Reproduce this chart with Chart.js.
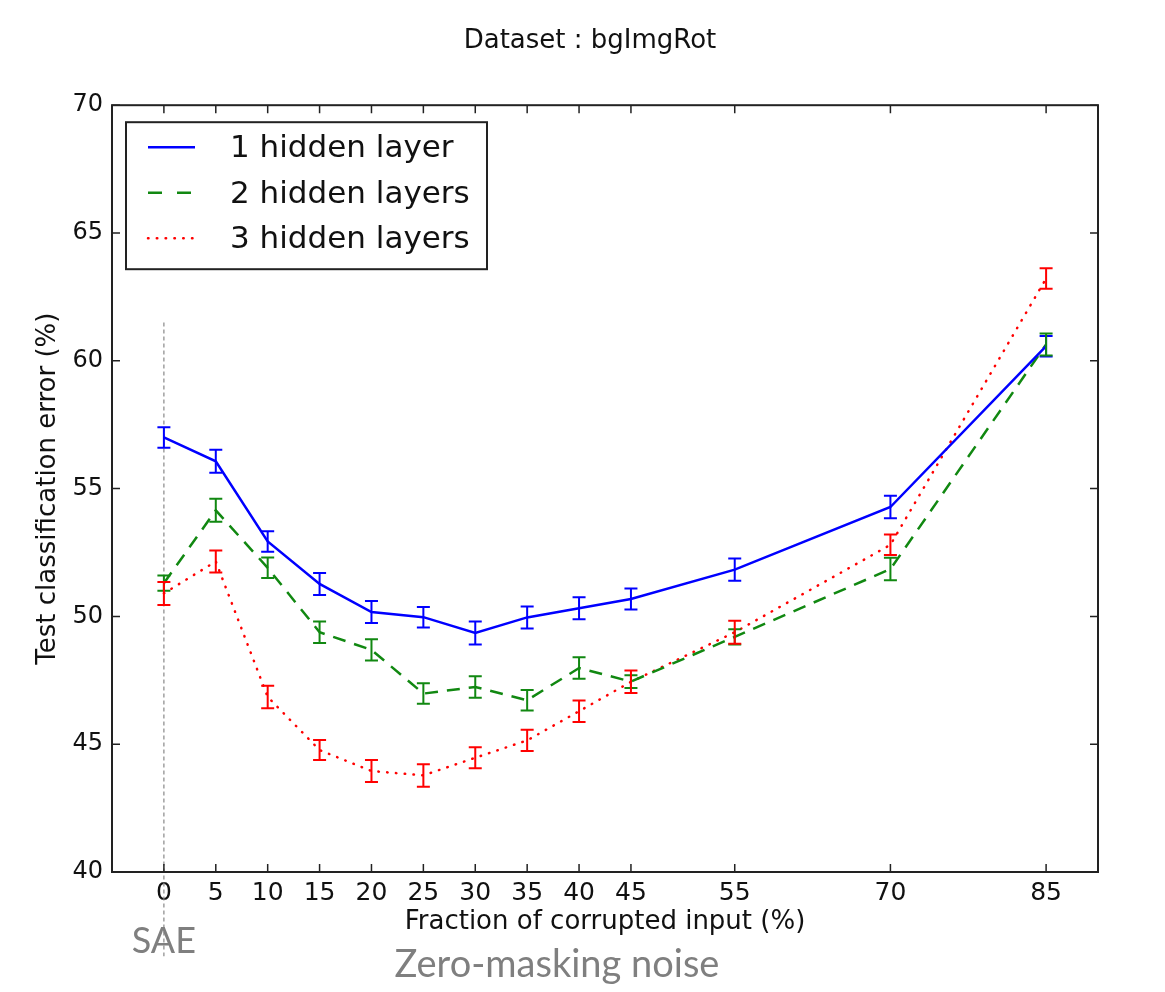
<!DOCTYPE html>
<html>
<head>
<meta charset="utf-8">
<title>Dataset : bgImgRot</title>
<script src="https://cdn.jsdelivr.net/npm/chart.js@4.4.1/dist/chart.umd.min.js"></script>
<style>
  html, body { margin: 0; padding: 0; background: #fff; }
  #wrap { width: 1165px; height: 992px; position: relative; }
</style>
</head>
<body>
<div id="wrap"><canvas id="grafico"></canvas></div>
<script>
// Datos
const xValues = [0, 5, 10, 15, 20, 25, 30, 35, 40, 45, 55, 70, 85];
const xTicks = [0, 5, 10, 15, 20, 25, 30, 35, 40, 45, 55, 70, 85];
const yTicks = [40, 45, 50, 55, 60, 65, 70];

const oneLayer = [57.0, 56.07, 52.93, 51.27, 50.17, 49.97, 49.35, 49.96, 50.32, 50.68, 51.83, 54.28, 60.57];
const oneLayerErr = [0.4, 0.45, 0.4, 0.43, 0.43, 0.4, 0.45, 0.43, 0.43, 0.41, 0.44, 0.44, 0.4];

const twoLayers = [51.3, 54.15, 51.9, 49.38, 48.69, 46.98, 47.24, 46.72, 47.98, 47.45, 49.2, 51.85, 60.64];
const twoLayersErr = [0.3, 0.45, 0.4, 0.42, 0.42, 0.4, 0.42, 0.4, 0.42, 0.25, 0.3, 0.44, 0.43];

const threeLayers = [50.9, 52.15, 46.85, 44.77, 43.95, 43.78, 44.47, 45.15, 46.29, 47.44, 49.38, 52.8, 63.22];
const threeLayersErr = [0.45, 0.43, 0.44, 0.39, 0.43, 0.44, 0.41, 0.42, 0.42, 0.44, 0.45, 0.4, 0.4];

const seriesLabels = ['1 hidden layer', '2 hidden layers', '3 hidden layers'];
const saeLine = [61.5, 36.7]; // línea vertical punteada en x = 0 (en unidades de y)

const errorSets = [oneLayerErr, twoLayersErr, threeLayersErr];
const FONT = "'DejaVu Sans', sans-serif";

function puntos(ys) {
    return xValues.map((x, i) => ({ x: x, y: ys[i] }));
}

const decor = {
    id: 'decor',
    beforeDatasetsDraw(chart) {
        const { ctx, scales: { x, y } } = chart;
        // línea SAE
        ctx.save();
        ctx.strokeStyle = '#888';
        ctx.lineWidth = 1.2;
        ctx.setLineDash([4, 3]);
        const px = x.getPixelForValue(0);
        ctx.beginPath();
        ctx.moveTo(px, y.getPixelForValue(saeLine[0]));
        ctx.lineTo(px, y.getPixelForValue(saeLine[1]));
        ctx.stroke();
        ctx.restore();
    },
    afterDatasetsDraw(chart) {
        const { ctx, scales: { x, y } } = chart;
        chart.data.datasets.forEach((ds, i) => {
            const errs = errorSets[i];
            ctx.save();
            ctx.strokeStyle = ds.borderColor;
            ctx.lineWidth = 2;
            ds.data.forEach((p, j) => {
                const px = x.getPixelForValue(p.x);
                const top = y.getPixelForValue(p.y + errs[j]);
                const bot = y.getPixelForValue(p.y - errs[j]);
                ctx.beginPath();
                ctx.moveTo(px, top); ctx.lineTo(px, bot);
                ctx.moveTo(px - 6.5, top); ctx.lineTo(px + 6.5, top);
                ctx.moveTo(px - 6.5, bot); ctx.lineTo(px + 6.5, bot);
                ctx.stroke();
            });
            ctx.restore();
        });
    },
    afterDraw(chart) {
        const { ctx, chartArea: a, scales: { x, y } } = chart;
        ctx.save();
        // marco
        ctx.strokeStyle = '#222';
        ctx.lineWidth = 2;
        ctx.strokeRect(a.left, a.top, a.width, a.height);
        // ticks hacia adentro
        ctx.lineWidth = 1.5;
        ctx.beginPath();
        x.ticks.forEach(t => {
            const px = x.getPixelForValue(t.value);
            ctx.moveTo(px, a.bottom); ctx.lineTo(px, a.bottom - 8);
            ctx.moveTo(px, a.top); ctx.lineTo(px, a.top + 8);
        });
        y.ticks.forEach(t => {
            const py = y.getPixelForValue(t.value);
            ctx.moveTo(a.left, py); ctx.lineTo(a.left + 8, py);
            ctx.moveTo(a.right, py); ctx.lineTo(a.right - 8, py);
        });
        ctx.stroke();

        // leyenda
        const lx = a.left + 14, ly = a.top + 17, lw = 361, lh = 147;
        ctx.fillStyle = '#fff';
        ctx.fillRect(lx, ly, lw, lh);
        ctx.strokeStyle = '#222';
        ctx.lineWidth = 2;
        ctx.strokeRect(lx, ly, lw, lh);
        chart.data.datasets.forEach((ds, i) => {
            const ry = ly + 25 + i * 45.5;
            ctx.save();
            ctx.strokeStyle = ds.borderColor;
            ctx.lineWidth = ds.borderWidth;
            ctx.lineCap = ds.borderCapStyle || 'butt';
            ctx.setLineDash(ds.legendDash || ds.borderDash || []);
            ctx.beginPath();
            ctx.moveTo(lx + 22, ry);
            ctx.lineTo(lx + 69, ry);
            ctx.stroke();
            ctx.restore();
            ctx.fillStyle = '#111';
            ctx.font = '31px ' + FONT;
            ctx.textBaseline = 'alphabetic';
            ctx.textAlign = 'left';
            ctx.fillText(ds.label, lx + 104, ry + 10);
        });

        // anotaciones
        ctx.fillStyle = '#7f7f7f';
        ctx.textAlign = 'center';
        ctx.textBaseline = 'alphabetic';
        ctx.font = "36px Lato, 'Open Sans', sans-serif";
        ctx.fillText('SAE', x.getPixelForValue(0), 953);
        ctx.font = "38px Lato, 'Open Sans', sans-serif";
        ctx.fillText('Zero-masking noise', 557, 977);
        ctx.restore();
    }
};

const ctx = document.getElementById('grafico').getContext('2d');
const myChart = new Chart(ctx, {
    type: 'line',
    data: {
        datasets: [
            {
                label: seriesLabels[0],
                data: puntos(oneLayer),
                borderColor: '#0000ff',
                borderWidth: 2.5
            },
            {
                label: seriesLabels[1],
                data: puntos(twoLayers),
                borderColor: '#118811',
                borderWidth: 2.5,
                borderDash: [13, 9],
                legendDash: [14, 15]
            },
            {
                label: seriesLabels[2],
                data: puntos(threeLayers),
                borderColor: '#ff0000',
                borderWidth: 2.5,
                borderDash: [0.5, 8.3],
                borderCapStyle: 'round'
            }
        ]
    },
    options: {
        responsive: true,
        maintainAspectRatio: false,
        animation: false,
        elements: {
            point: { radius: 0, hoverRadius: 0 },
            line: { tension: 0, fill: false }
        },
        layout: { padding: { left: 15, right: 0, top: 0, bottom: 54 } },
        scales: {
            x: {
                type: 'linear',
                min: -5,
                max: 90,
                afterBuildTicks: (scale) => { scale.ticks = xTicks.map(v => ({ value: v })); },
                afterFit: (scale) => { scale.height = 66; },
                grid: { display: false, drawTicks: false },
                border: { display: false },
                ticks: {
                    padding: 6,
                    color: '#111',
                    font: { family: FONT, size: 25 },
                    maxRotation: 0,
                    autoSkip: false
                },
                title: {
                    display: true,
                    text: 'Fraction of corrupted input (%)',
                    color: '#111',
                    font: { family: FONT, size: 26 },
                    padding: 0
                }
            },
            y: {
                type: 'linear',
                min: 40,
                max: 70,
                afterBuildTicks: (scale) => { scale.ticks = yTicks.map(v => ({ value: v })); },
                afterFit: (scale) => { scale.width = 97; },
                grid: { display: false, drawTicks: false },
                border: { display: false },
                ticks: {
                    padding: 9,
                    color: '#111',
                    font: { family: FONT, size: 24 }
                },
                title: {
                    display: true,
                    text: 'Test classification error (%)',
                    color: '#111',
                    font: { family: FONT, size: 26 },
                    padding: { top: 18, bottom: 0 }
                }
            },
            y2: {
                type: 'linear',
                position: 'right',
                min: 40,
                max: 70,
                afterFit: (scale) => { scale.width = 67; },
                grid: { display: false, drawTicks: false },
                border: { display: false },
                ticks: { display: false }
            }
        },
        plugins: {
            legend: { display: false },
            tooltip: { enabled: false },
            title: {
                display: true,
                text: 'Dataset : bgImgRot',
                color: '#111',
                font: { family: FONT, size: 26, weight: 'normal' },
                padding: { top: 26, bottom: 48 }
            }
        }
    },
    plugins: [decor]
});
</script>
</body>
</html>
